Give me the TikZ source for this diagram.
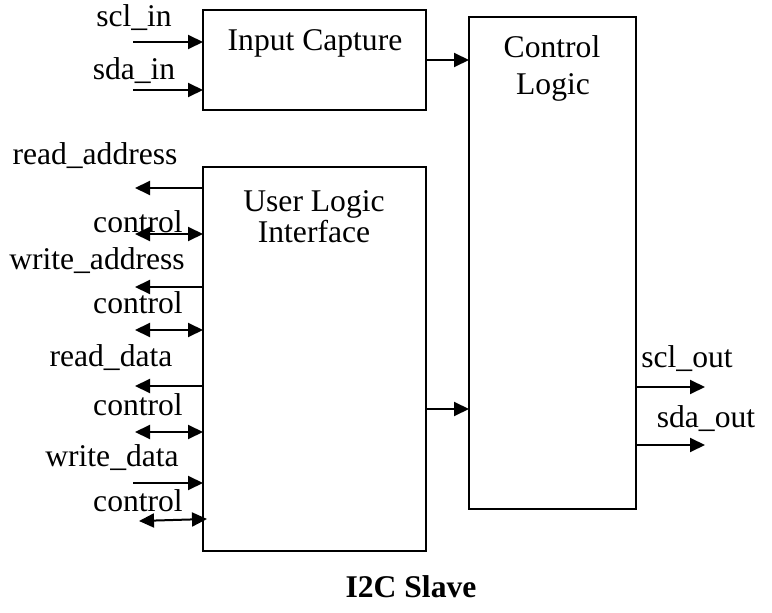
\documentclass[tikz,border=0pt]{standalone}
\usepackage{fontspec}
\setmainfont{Liberation Serif}
\usetikzlibrary{arrows.meta}
\begin{document}
\begin{tikzpicture}[x=0.75pt,y=-0.75pt,
  box/.style={draw,line width=1.5pt,inner sep=0pt,outer sep=0pt},
  lbl/.style={anchor=base,inner sep=0pt,font=\fontsize{23.7}{28}\selectfont},
  ttl/.style={anchor=base,inner sep=0pt,font=\fontsize{23.7}{28}\selectfont\bfseries},
  arr/.style={line width=1.5pt,-{Triangle[length=11.25pt,width=10.5pt]}},
  barr/.style={line width=1.5pt,{Triangle[length=11.25pt,width=10.5pt]}-{Triangle[length=11.25pt,width=10.5pt]}}]
\path[use as bounding box] (0,0) rectangle (772,613);
% boxes
\node[box,minimum width=167.25pt,minimum height=75pt] (ic) at (314.5,60) {};
\node[box,minimum width=125.25pt,minimum height=369pt] (cl) at (552.5,263) {};
\node[box,minimum width=167.25pt,minimum height=288pt] (ul) at (314.5,359) {};
% box texts
\node[lbl] (ict) at (315,51) {Input Capture};
\node[lbl] (clt1) at (552,58) {Control};
\node[lbl] (clt2) at (553,95) {Logic};
\node[lbl] (ult1) at (314,212) {User Logic};
\node[lbl] (ult2) at (314,243) {Interface};
% signal labels
\node[lbl] (sclinl) at (134,27) {scl\_in};
\node[lbl] (sdainl) at (134,80) {sda\_in};
\node[lbl] (ral) at (95,165) {read\_address};
\node[lbl] (c1l) at (138,233) {control};
\node[lbl] (wal) at (97,270) {write\_address};
\node[lbl] (c2l) at (138,314) {control};
\node[lbl] (rdl) at (111,367) {read\_data};
\node[lbl] (c3l) at (138,415) {control};
\node[lbl] (wdl) at (112,466) {write\_data};
\node[lbl] (c4l) at (138,511) {control};
\node[lbl] (scloutl) at (687,368) {scl\_out};
\node[lbl] (sdaoutl) at (706,427) {sda\_out};
\node[ttl] (title) at (411,597) {I2C Slave};
% free ends
\coordinate (sclin) at (133,42);
\coordinate (sdain) at (133,90);
\coordinate (ra) at (135,188);
\coordinate (c1) at (135,234);
\coordinate (wa) at (135,287);
\coordinate (c2) at (135,330);
\coordinate (rd) at (135,386);
\coordinate (c3) at (135,432);
\coordinate (wd) at (133,483);
\coordinate (c4a) at (139,521);
\coordinate (c4b) at (207,519);
\coordinate (sclout) at (705,387);
\coordinate (sdaout) at (705,445);
\coordinate (icy) at (0,60);
\coordinate (uly) at (0,409);
% connectors
\draw[arr] (sclin) -- (ic.west |- sclin);
\draw[arr] (sdain) -- (ic.west |- sdain);
\draw[arr] (ic.east |- icy) -- (cl.west |- icy);
\draw[arr] (ul.east |- uly) -- (cl.west |- uly);
\draw[arr] (ul.west |- ra) -- (ra);
\draw[barr] (c1) -- (ul.west |- c1);
\draw[arr] (ul.west |- wa) -- (wa);
\draw[barr] (c2) -- (ul.west |- c2);
\draw[arr] (ul.west |- rd) -- (rd);
\draw[barr] (c3) -- (ul.west |- c3);
\draw[arr] (wd) -- (ul.west |- wd);
\draw[barr] (c4a) -- (c4b);
\draw[arr] (cl.east |- sclout) -- (sclout);
\draw[arr] (cl.east |- sdaout) -- (sdaout);
\end{tikzpicture}
\end{document}
